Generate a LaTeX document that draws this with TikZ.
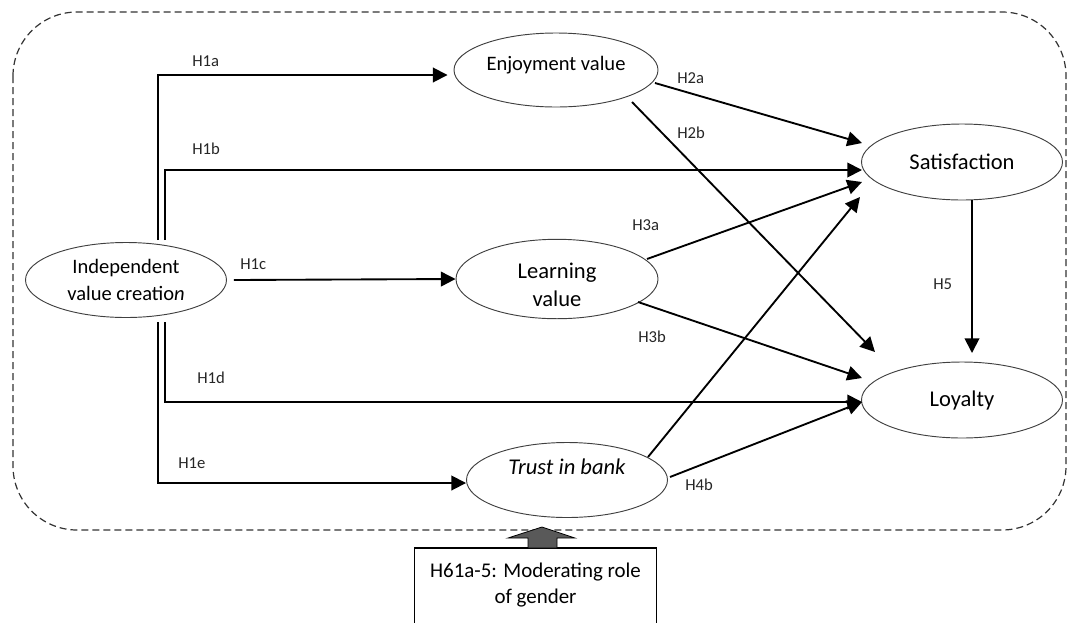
\documentclass[tikz,border=0pt]{standalone}
\usepackage{fontspec}
\setmainfont{Carlito}
\usetikzlibrary{arrows.meta,shapes.geometric,calc}
\begin{document}
\begin{tikzpicture}[x=0.75pt,y=-0.75pt,
  oval/.style={ellipse,draw=black!75,line width=0.7pt,inner sep=0pt,align=center},
  big/.style={font=\fontsize{16.9}{21}\selectfont},
  mid/.style={font=\fontsize{15.4}{20.25}\selectfont},
  hyp/.style={font=\fontsize{12.5}{14}\selectfont,anchor=west,inner sep=0pt,text=black!85},
  arr/.style={line width=1.4pt,-{Triangle[length=11pt,width=11pt]}},
  frame/.style={draw=black!80,line width=0.9pt,dash pattern=on 5.25pt off 3pt,rounded corners=48pt},
]
\useasboundingbox (0,0) rectangle (1075,622);
\clip (0,0) rectangle (1075,622);

% frame
\draw[frame] (13,12) rectangle (1066,530);

% nodes
\node[oval,mid,minimum width=150.75pt,minimum height=56.25pt] (ind) at (126,280) {Independent\\value creatio\textit{n}};
\node[oval,mid,minimum width=153pt,minimum height=55.5pt] (enj) at (556,70) {Enjoyment value\rule[-10pt]{0pt}{0pt}};
\node[oval,big,minimum width=151.5pt,minimum height=55.5pt] (learn) at (557,279) {\rule{0pt}{21pt}Learning\\value};
\node[oval,big,minimum width=150.75pt,minimum height=56.25pt] (trust) at (567,480) {\textit{Trust in bank}\rule[-19.5pt]{0pt}{0pt}};
\node[oval,big,minimum width=150.75pt,minimum height=57pt] (sat) at (962,162) {Satisfaction};
\node[oval,big,minimum width=150.75pt,minimum height=57pt] (loy) at (962,400) {Loyalty};

% moderator box
\node[font=\fontsize{15.7}{19.5}\selectfont,align=center,minimum width=180.75pt,minimum height=55.5pt,anchor=north,inner sep=0pt] (mod) at (535.5,548) {H61a-5: Moderating role\\of gender};
\draw[line width=0.8pt] (mod.south west) -- (mod.north west) -- (mod.north east) -- (mod.south east);
\draw[fill=black!65,draw=black,line width=0.6pt]
  ([shift={(-7.5,0)}]mod.north) -- ([shift={(-7.5,-10)}]mod.north) -- ([shift={(-27.5,-10)}]mod.north)
  -- ([shift={(6.5,-21)}]mod.north) -- ([shift={(39.5,-10)}]mod.north) -- ([shift={(21.5,-10)}]mod.north)
  -- ([shift={(21.5,0)}]mod.north) -- cycle;

% H1 paths
\draw[arr] ([shift={(32,-40)}]ind.center) |- ([shift={(-6,5)}]enj.west);
\draw[arr] ([shift={(39,-40)}]ind.center) |- ([shift={(-100,8)}]sat.center);
\draw[arr] ([shift={(7,0)}]ind.east) -- (learn.west);
\draw[arr] ([shift={(39,42)}]ind.center) |- ([shift={(-100,2)}]loy.center);
\draw[arr] ([shift={(32,42)}]ind.center) |- ([shift={(0,3)}]trust.west);

% other paths
\draw[arr] ([shift={(99,13)}]enj.center) -- ([shift={(-100,-19)}]sat.center);
\draw[arr] ([shift={(76,32)}]enj.center) -- ([shift={(-87,-48)}]loy.center);
\draw[arr] ([shift={(90,-20)}]learn.center) -- ([shift={(-100,20)}]sat.center);
\draw[arr] ([shift={(81,23)}]learn.center) -- ([shift={(-100,-22)}]loy.center);
\draw[arr] ([shift={(81,-23)}]trust.center) -- ([shift={(-102,35)}]sat.center);
\draw[arr] ([shift={(103,-3)}]trust.center) -- ([shift={(-100,2)}]loy.center);
\draw[arr] ([shift={(10,38)}]sat.center) -- ([shift={(10,-47)}]loy.center);

% labels
\node[hyp] (l1a) at (192,61) {H1a};
\node[hyp] (l1b) at (192,149) {H1b};
\node[hyp] (l1c) at (240,264) {H1c};
\node[hyp] (l1d) at (197,378) {H1d};
\node[hyp] (l1e) at (178,463) {H1e};
\node[hyp] (l2a) at (677,78) {H2a};
\node[hyp] (l2b) at (677,133) {H2b};
\node[hyp] (l3a) at (632,225) {H3a};
\node[hyp] (l3b) at (638,337) {H3b};
\node[hyp] (l4b) at (685,485) {H4b};
\node[hyp] (l5) at (933,284) {H5};
\end{tikzpicture}
\end{document}
